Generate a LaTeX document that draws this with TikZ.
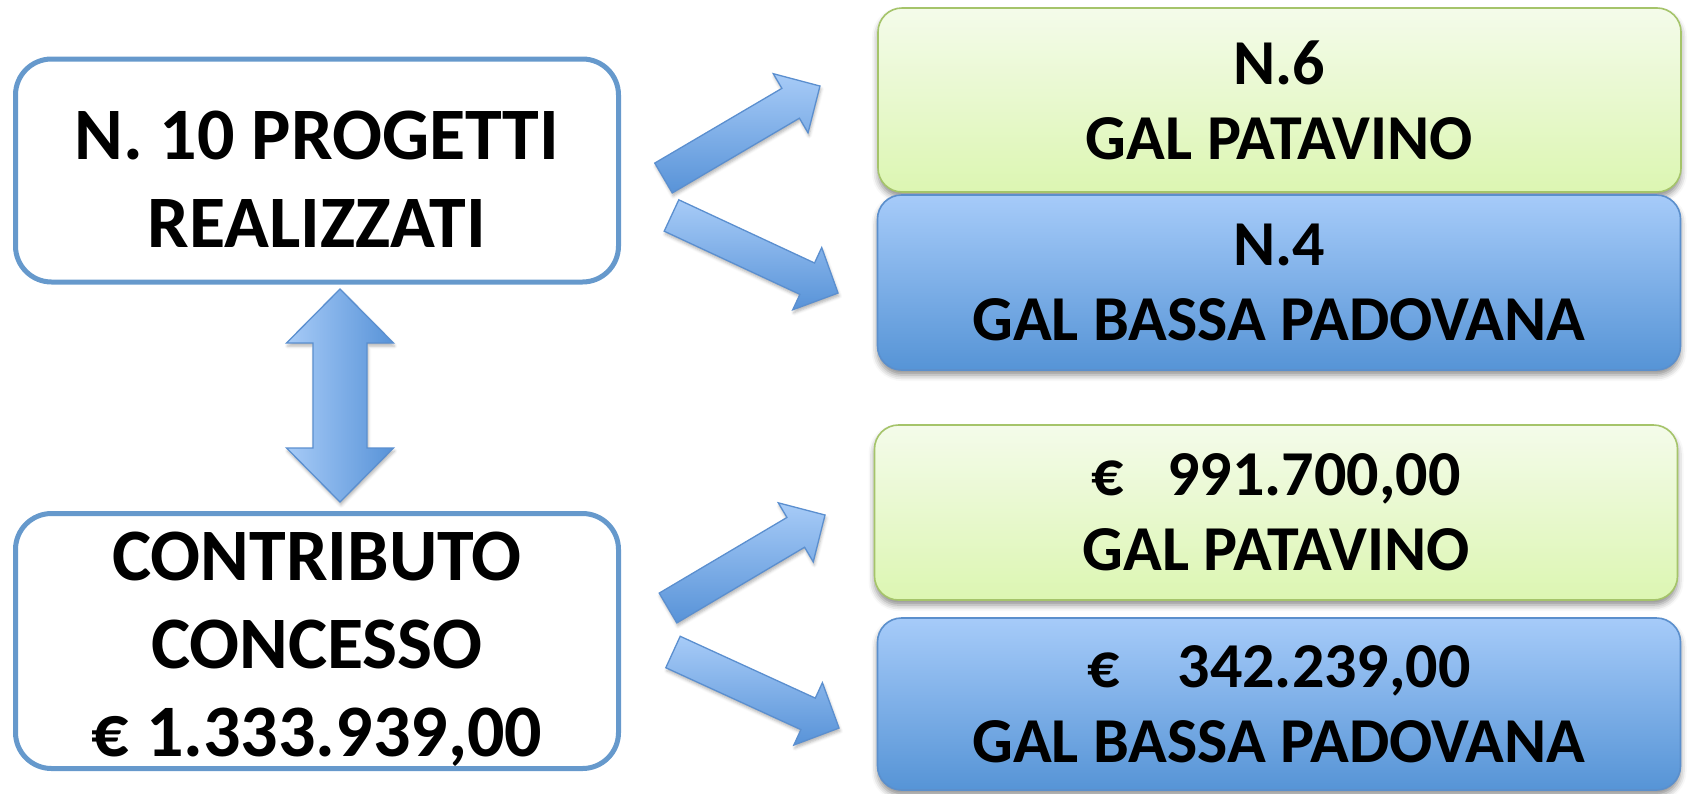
\documentclass[tikz,border=0pt]{standalone}
\usepackage{fontspec}
\setmainfont{Carlito}
\usetikzlibrary{shadows.blur}
\definecolor{lborder}{HTML}{6699CC}
\definecolor{gtop}{HTML}{F4FBEA}
\definecolor{gbot}{HTML}{DCF6B2}
\definecolor{gborder}{HTML}{A5C46A}
\definecolor{btop}{HTML}{A6CBF9}
\definecolor{bbot}{HTML}{5694D6}
\definecolor{bborder}{HTML}{5B8FCC}
\definecolor{alight}{HTML}{A7CBF7}
\definecolor{adark}{HTML}{5893D8}
\definecolor{aborder}{HTML}{5B8FCF}
\begin{document}
\begin{tikzpicture}[x=1pt,y=-1pt,
  lbox/.style={draw=lborder, line width=5pt, fill=white, rounded corners=36pt,
    minimum width=603pt, minimum height=223pt, inner sep=0pt},
  ltext/.style={align=center, inner sep=0pt, font=\fontsize{74}{88}\selectfont\bfseries},
  rbox/.style={line width=1.6pt, rounded corners=24pt,
    minimum width=803pt, minimum height=184pt, inner sep=0pt, align=center,
    font=\fontsize{64}{75}\selectfont\bfseries,
    blur shadow={shadow xshift=0pt, shadow yshift=-5pt, shadow blur radius=6pt, shadow opacity=45}},
  gbox/.style={rbox, draw=gborder, top color=gtop, bottom color=gbot},
  bbox/.style={rbox, draw=bborder, top color=btop, bottom color=bbot},
  blockarrow/.style={draw=aborder, line width=1.3pt, line join=miter,
    blur shadow={shadow xshift=1pt, shadow yshift=-3pt, shadow blur radius=3pt, shadow opacity=30}},
  barrow/.pic={
    \shade[blockarrow, top color=alight, bottom color=adark]
      (0,-17.3) -- (#1-34,-17.3) -- (#1-34,-34.3) -- (#1,0) -- (#1-34,34.3)
      -- (#1-34,17.3) -- (0,17.3) -- cycle;
  }
]
\useasboundingbox (0,0) rectangle (1688,793);

% left boxes
\node[lbox, label={[ltext, yshift=-9pt]center:N. 10 PROGETTI\\REALIZZATI}] (real) at (317,170.5) {};
\node[lbox, minimum height=255pt, label={[ltext, yshift=-8pt]center:CONTRIBUTO\\CONCESSO\\€ 1.333.939,00}] (contr) at (317,641) {};

% right boxes
\node[gbox] (g1) at (1279.5,100) {N.6\\GAL PATAVINO};
\node[bbox, minimum height=175pt] (b1) at (1279,282.5) {N.4\\GAL BASSA PADOVANA};
\node[gbox, minimum height=175pt] (g2) at (1276,512.5) {€~~~991.700,00\\GAL PATAVINO};
\node[bbox, minimum height=172pt] (b2) at (1279,704) {€~~~~342.239,00\\GAL BASSA PADOVANA};

% vertical double arrow between the two left boxes
\coordinate (vtop) at (340,289);
\coordinate (vbot) at (340,502);
\shade[blockarrow, left color=alight, right color=adark]
  (vtop) -- ++(53.5,54) -- ++(-26.5,0) -- ++(0,105) -- ++(26.5,0)
  -- (vbot) -- ++(-53.5,-54) -- ++(26.5,0) -- ++(0,-105) -- ++(-26.5,0) -- cycle;

% diagonal arrows
\coordinate (a1) at (663.5,178);
\coordinate (a2) at (671.5,215.5);
\coordinate (a3) at (668,608);
\coordinate (a4) at (673,652);
\pic[rotate=30.45] at (a1) {barrow=181.5};
\pic[rotate=-24.96] at (a2) {barrow=183.7};
\pic[rotate=30.64] at (a3) {barrow=182.5};
\pic[rotate=-24.6] at (a4) {barrow=182.6};
\end{tikzpicture}
\end{document}
